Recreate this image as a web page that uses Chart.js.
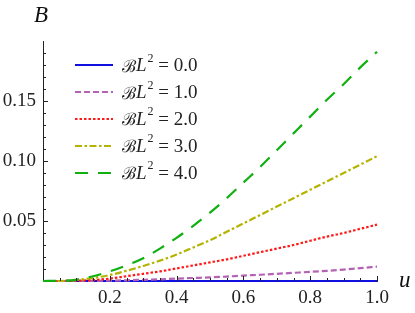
<!DOCTYPE html>
<html>
<head>
<meta charset="utf-8">
<script src="https://cdn.jsdelivr.net/npm/chart.js@4/dist/chart.umd.min.js"></script>
<style>
  html, body { margin: 0; padding: 0; background: #fff; }
  #wrap { position: relative; width: 415px; height: 313px; }
  #c { position: absolute; left: 0; top: 0; }
  .lbl { position: absolute; font-family: 'Liberation Serif', serif; font-style: italic; color: #111; }
  #legend { position: absolute; left: 75px; top: 52px; font-family: 'Liberation Serif', serif; font-size: 19px; color: #222; }
  .row { height: 26.8px; display: flex; align-items: center; white-space: nowrap; }
  .row svg { width: 38px; height: 6px; margin-right: 9px; flex: none; }
  .row .scr { font-family: 'DejaVu Serif', serif; font-style: normal; font-size: 17px; }
  .row i { font-family: 'Liberation Serif', serif; }
  .row .sup { font-size: 12px; position: relative; top: -7px; margin-left: 1px; }
</style>
</head>
<body>
<div id="wrap">
  <canvas id="c" width="415" height="313"></canvas>
  <div class="lbl" style="left:34px; top:2px; font-size:23px;">B</div>
  <div class="lbl" style="left:399px; top:267px; font-size:23px;">u</div>
  <div id="legend"></div>
</div>
<script>
// ---- data ----
const uValues = [0, 0.05, 0.1, 0.15, 0.2, 0.25, 0.3, 0.35, 0.4, 0.45, 0.5, 0.55, 0.6, 0.65, 0.7, 0.75, 0.8, 0.85, 0.9, 0.95, 1.0];
const seriesLabels = ['0.0', '1.0', '2.0', '3.0', '4.0'];
const B_L0 = [0, 0, 0, 0, 0, 0, 0, 0, 0, 0, 0, 0, 0, 0, 0, 0, 0, 0, 0, 0, 0];
const B_L1 = [0, 0, 0, 0.0001, 0.0003, 0.0006, 0.001, 0.0014, 0.002, 0.0025, 0.003, 0.0037, 0.0045, 0.0052, 0.006, 0.0068, 0.0076, 0.0085, 0.0095, 0.0107, 0.012];
const B_L2 = [0, 0, 0.0002, 0.0008, 0.002, 0.004, 0.006, 0.008, 0.0105, 0.013, 0.0155, 0.018, 0.021, 0.024, 0.027, 0.030, 0.0335, 0.037, 0.040, 0.0435, 0.047];
const B_L3 = [0, 0, 0.001, 0.0025, 0.005, 0.0085, 0.0125, 0.017, 0.022, 0.028, 0.034, 0.041, 0.048, 0.055, 0.062, 0.069, 0.076, 0.083, 0.090, 0.097, 0.104];
const B_L4 = [0, 0.0002, 0.001, 0.004, 0.008, 0.013, 0.019, 0.027, 0.036, 0.046, 0.057, 0.069, 0.082, 0.095, 0.109, 0.123, 0.137, 0.151, 0.164, 0.178, 0.191];
const yTicks = [0.05, 0.10, 0.15];
const xTicks = [0.2, 0.4, 0.6, 0.8, 1.0];

const seriesData = [B_L0, B_L1, B_L2, B_L3, B_L4];
const colors = ['#1010e0', '#b463b4', '#ff1a1a', '#b4b400', '#10b010'];
const dashes = [[], [6, 3], [2.5, 2], [7, 2.5, 2.5, 2.5], [13, 10]];

const datasets = seriesData.map((arr, i) => ({
  label: 'ℬL² = ' + seriesLabels[i],
  data: arr.map((v, k) => ({ x: uValues[k], y: v })),
  borderColor: colors[i],
  backgroundColor: colors[i],
  borderWidth: 2.2,
  borderDash: dashes[i],
  pointRadius: 0,
  tension: 0.4,
  cubicInterpolationMode: 'monotone',
  clip: 6,
  fill: false
})).reverse();

const tickPlugin = {
  id: 'mmaTicks',
  afterDraw(chart) {
    const ctx = chart.ctx;
    const xs = chart.scales.x, ys = chart.scales.y;
    const ca = chart.chartArea;
    ctx.save();
    ctx.strokeStyle = '#222';
    ctx.lineWidth = 1;
    ctx.beginPath();
    for (let k = 1; k < 20; k++) {
      const v = k * 0.01;
      const py = Math.round(ys.getPixelForValue(v)) + 0.5;
      const len = (k % 5 === 0) ? 5 : 3;
      ctx.moveTo(ca.left, py); ctx.lineTo(ca.left + len, py);
    }
    for (let k = 1; k <= 20; k++) {
      const v = k * 0.05;
      const px = Math.round(xs.getPixelForValue(v)) + 0.5;
      const len = (k % 4 === 0) ? 5 : 3;
      ctx.moveTo(px, ca.bottom); ctx.lineTo(px, ca.bottom - len);
    }
    ctx.stroke();
    ctx.restore();
  }
};

new Chart(document.getElementById('c'), {
  type: 'line',
  data: { datasets },
  options: {
    responsive: false,
    animation: false,
    devicePixelRatio: 1,
    layout: { padding: { top: 41, right: 38, left: 0, bottom: 0 } },
    plugins: { legend: { display: false }, tooltip: { enabled: false } },
    scales: {
      x: {
        type: 'linear', min: 0, max: 1,
        grid: { display: false, drawTicks: false },
        border: { display: true, color: '#222', width: 1 },
        afterFit: s => { s.height = 32; },
        afterBuildTicks: s => { s.ticks = xTicks.map(v => ({ value: v })); },
        ticks: {
          padding: 6,
          color: '#222',
          font: { family: "'Liberation Serif', serif", size: 19 },
          callback: v => v.toFixed(1),
          maxRotation: 0, autoSkip: false
        }
      },
      y: {
        type: 'linear', min: 0, max: 0.2,
        grid: { display: false, drawTicks: false },
        border: { display: true, color: '#222', width: 1 },
        afterFit: s => { s.width = 43; },
        afterBuildTicks: s => { s.ticks = yTicks.map(v => ({ value: v })); },
        ticks: {
          padding: 7,
          color: '#222',
          font: { family: "'Liberation Serif', serif", size: 19 },
          callback: v => v.toFixed(2)
        }
      }
    }
  },
  plugins: [tickPlugin]
});

// HTML legend built from the same series arrays
const legend = document.getElementById('legend');
seriesLabels.forEach((lab, i) => {
  const row = document.createElement('div');
  row.className = 'row';
  const dash = dashes[i].length ? dashes[i].join(' ') : 'none';
  row.innerHTML = '<svg viewBox="0 0 38 6"><line x1="0" y1="3" x2="38" y2="3" stroke="' + colors[i] +
    '" stroke-width="2.2" stroke-dasharray="' + dash + '"/></svg>' +
    '<span class="scr">ℬ</span><i>L</i><span class="sup">2</span>&nbsp;=&nbsp;' + lab;
  legend.appendChild(row);
});
</script>
</body>
</html>
